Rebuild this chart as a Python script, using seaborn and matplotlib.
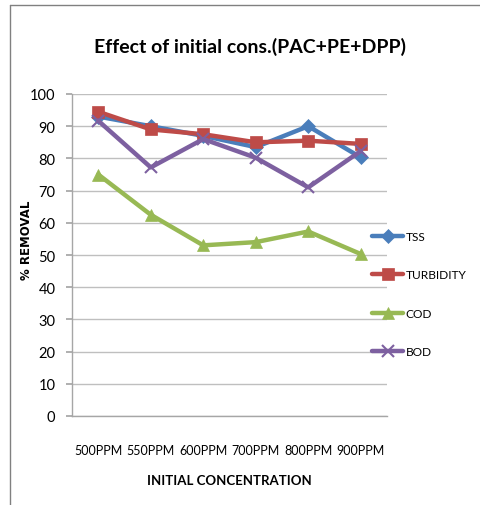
import matplotlib
matplotlib.use("Agg")
import matplotlib.pyplot as plt
import seaborn as sns
import pandas as pd

concentrations = ["500PPM", "550PPM", "600PPM", "700PPM", "800PPM", "900PPM"]
tss = [93, 90, 87, 83.5, 90, 80.3]
turbidity = [94.5, 89, 87.5, 85, 85.5, 84.5]
cod = [75, 62.5, 53, 54, 57.3, 50.3]
bod = [91.7, 77.2, 86, 80.2, 71, 82.3]

series_names = ["TSS", "TURBIDITY", "COD", "BOD"]
colors = ["#4A7EBB", "#BE4B48", "#98B954", "#7D60A0"]
markers = ["D", "s", "^", "x"]

df = pd.DataFrame({"conc": concentrations, "TSS": tss, "TURBIDITY": turbidity,
                   "COD": cod, "BOD": bod})
long = df.melt(id_vars="conc", var_name="param", value_name="removal")

sns.set_theme(style="white")
plt.rcParams["font.family"] = ["Lato", "DejaVu Sans"]
plt.rcParams["text.color"] = "black"
plt.rcParams["axes.labelcolor"] = "black"
plt.rcParams["xtick.color"] = "black"
plt.rcParams["ytick.color"] = "black"

fig = plt.figure(figsize=(4.81, 5.06), dpi=100)
ax = fig.add_axes([72 / 481, 1 - 417 / 506, 315 / 481, 322 / 506])

marker_sizes = {"TSS": 7, "TURBIDITY": 8, "COD": 8, "BOD": 9}
for name, col, mk in zip(series_names, colors, markers):
    sub = long[long["param"] == name]
    sns.lineplot(data=sub, x="conc", y="removal", ax=ax, color=col, marker=mk,
                 markersize=marker_sizes[name], linewidth=3.2,
                 markeredgecolor=col, markeredgewidth=1.5 if mk == "x" else 0.5,
                 label=name, sort=False)

ax.set_xlim(-0.5, len(concentrations) - 0.5)
ax.set_ylim(0, 100)
ax.set_yticks(range(0, 101, 10))
ax.yaxis.grid(True, color="#bfbfbf", linewidth=1)
ax.xaxis.grid(False)
for s in ["top", "right"]:
    ax.spines[s].set_visible(False)
for s in ["left", "bottom"]:
    ax.spines[s].set_color("#a6a6a6")
    ax.spines[s].set_linewidth(1)
ax.tick_params(axis="y", which="major", left=True, length=4, color="#a6a6a6",
               labelsize=10.5, pad=8)
ax.tick_params(axis="x", bottom=False, labelsize=9, pad=14)
ax.set_xlabel("INITIAL CONCENTRATION", fontsize=9.5, fontweight="bold", labelpad=13)
ax.set_ylabel("% REMOVAL", fontsize=8.5, fontweight="bold", family="DejaVu Sans")
ax.yaxis.set_label_coords(-39 / 315, 177 / 322)

fig.text(0.52, 1 - 47 / 506, "Effect of initial cons.(PAC+PE+DPP)", ha="center",
         va="center", fontsize=14, fontweight="bold")

leg = ax.legend(loc="upper left", bbox_to_anchor=(372 / 481, 1 - 232 / 506),
                bbox_transform=fig.transFigure, frameon=False,
                fontsize=8.6, labelspacing=2.3, handlelength=2.6,
                handletextpad=0.2, borderaxespad=0, borderpad=0)

# outer frame on top and left
fig.add_artist(plt.Line2D([10 / 481, 10 / 481], [0, 1 - 6 / 506],
                          transform=fig.transFigure, color="#808080", linewidth=1))
fig.add_artist(plt.Line2D([10 / 481, 0.999], [1 - 6 / 506, 1 - 6 / 506],
                          transform=fig.transFigure, color="#808080", linewidth=1))

fig.savefig("out.png", dpi=100)
